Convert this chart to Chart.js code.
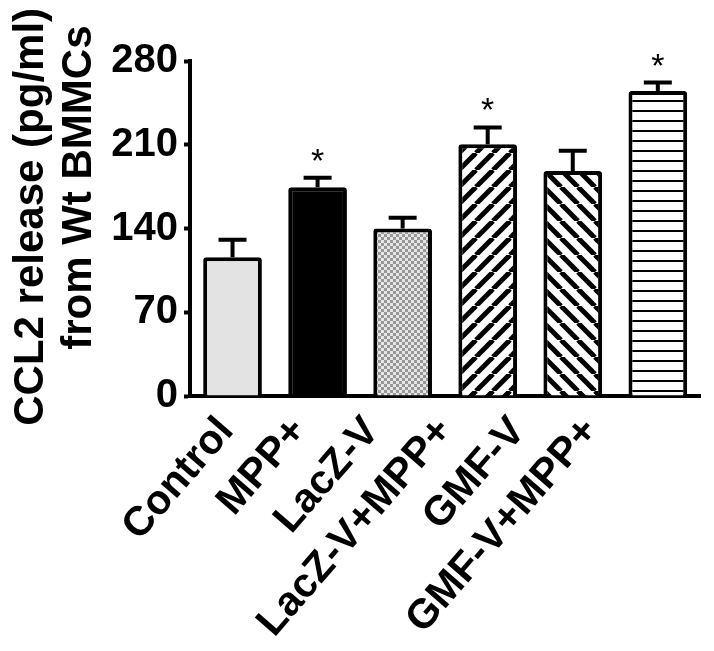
<html>
<head>
    <meta name="viewport" content="width=device-width">
    <script src="https://cdn.jsdelivr.net/npm/chart.js@4.4.1/dist/chart.umd.min.js"></script>
    <style>
        *{padding:0; margin:0; background-color: #fff;}
        #wrap{width:714px; height:651px; position:relative;}
    </style>
</head>
<body>
<div id="wrap"><canvas id="chart"></canvas></div>
<script>
    // data
    var groups = ["Control", "MPP+", "LacZ-V", "LacZ-V+MPP+", "GMF-V", "GMF-V+MPP+"];
    var means = [116, 174.5, 140, 210.5, 188, 255];
    var sems = [14.5, 8, 9, 14, 17, 7];
    var stars = [false, true, false, true, false, true];
    var yTicks = [0, 70, 140, 210, 280];
    // in the figure the labels sit a bit tighter than the bars, so they get their own axis
    var labelSlots = groups.concat([""]);

    var FONT = "'Liberation Sans', Arial, sans-serif";

    function makePattern(w, h, draw) {
        var c = document.createElement("canvas");
        c.width = w; c.height = h;
        var g = c.getContext("2d");
        g.fillStyle = "#fff";
        g.fillRect(0, 0, w, h);
        draw(g, w, h);
        return document.getElementById("chart").getContext("2d").createPattern(c, "repeat");
    }

    var checker = makePattern(6, 6, function(g) {
        g.fillStyle = "#e6e6e6"; g.fillRect(0, 0, 6, 6);
        g.fillStyle = "#979797";
        g.fillRect(0, 0, 3, 3); g.fillRect(3, 3, 3, 3);
    });
    var slash = makePattern(17, 17, function(g, p) {
        g.strokeStyle = "#000"; g.lineWidth = 5;
        for (var k = -1; k <= 1; k++) {
            g.beginPath(); g.moveTo(k * p, p); g.lineTo(k * p + p, 0); g.stroke();
        }
    });
    var backslash = makePattern(17, 17, function(g, p) {
        g.strokeStyle = "#000"; g.lineWidth = 5;
        for (var k = -1; k <= 1; k++) {
            g.beginPath(); g.moveTo(k * p, 0); g.lineTo(k * p + p, p); g.stroke();
        }
    });
    var hlines = makePattern(4, 10, function(g) {
        g.fillStyle = "#000"; g.fillRect(0, 0, 4, 2);
    });
    var fills = ["#e3e3e3", "#000000", checker, slash, backslash, hlines];

    var errorBars = {
        id: "errorBars",
        afterDatasetsDraw: function(chart) {
            var ctx = chart.ctx;
            var y = chart.scales.y;
            var meta = chart.getDatasetMeta(0);
            ctx.save();
            ctx.strokeStyle = "#000";
            ctx.lineWidth = 4;
            meta.data.forEach(function(bar, i) {
                var top = y.getPixelForValue(means[i]);
                var cap = y.getPixelForValue(means[i] + sems[i]);
                ctx.beginPath();
                ctx.moveTo(bar.x, top);
                ctx.lineTo(bar.x, cap);
                ctx.moveTo(bar.x - 14, cap);
                ctx.lineTo(bar.x + 14, cap);
                ctx.stroke();
                if (stars[i]) {
                    ctx.fillStyle = "#000";
                    ctx.font = "34px " + FONT;
                    ctx.textAlign = "center";
                    ctx.textBaseline = "alphabetic";
                    ctx.fillText("*", bar.x, cap - 6);
                }
            });
            ctx.restore();
        }
    };

    var config = {
        type: "bar",
        data: {
            labels: groups,
            datasets: [{
                data: means,
                backgroundColor: fills,
                borderColor: "#000",
                borderWidth: 4,
                borderRadius: 3,
                borderSkipped: "start",
                categoryPercentage: 1,
                barPercentage: 0.69
            }]
        },
        options: {
            responsive: true,
            maintainAspectRatio: false,
            animation: false,
            layout: { padding: { top: 61, right: 5, left: 0, bottom: 0 } },
            plugins: { legend: { display: false }, tooltip: { enabled: false } },
            scales: {
                x: {
                    grid: { display: false, drawTicks: false },
                    border: { display: true, color: "#000", width: 4 },
                    ticks: { display: false },
                    afterFit: function(s) { s.height = 0; }
                },
                x2: {
                    type: "category",
                    position: "bottom",
                    labels: labelSlots,
                    offset: true,
                    grid: { display: false, drawTicks: false },
                    border: { display: false },
                    ticks: {
                        color: "#000",
                        font: { family: FONT, size: 41, weight: "bold" },
                        minRotation: 49, maxRotation: 49,
                        autoSkip: false,
                        padding: 12
                    },
                    afterFit: function(s) { s.height = 255; }
                },
                y: {
                    min: 0, max: 280,
                    afterBuildTicks: function(s) {
                        s.ticks = yTicks.map(function(v) { return { value: v }; });
                    },
                    grid: { drawOnChartArea: false, drawTicks: true, tickLength: 6, tickWidth: 4, color: "#000" },
                    border: { display: true, color: "#000", width: 4 },
                    ticks: {
                        color: "#000",
                        padding: 6,
                        font: { family: FONT, size: 40, weight: "bold" }
                    },
                    title: {
                        display: true,
                        text: ["  CCL2 release (pg/ml)", "       from Wt BMMCs"],
                        color: "#000",
                        padding: { top: 7, bottom: 0 },
                        font: { family: FONT, size: 42, weight: "bold", lineHeight: 1.15 }
                    },
                    afterFit: function(s) { s.width = 190; }
                }
            }
        },
        plugins: [errorBars]
    };

    var chart = new Chart(document.getElementById("chart").getContext("2d"), config);
</script>
</body>
</html>
